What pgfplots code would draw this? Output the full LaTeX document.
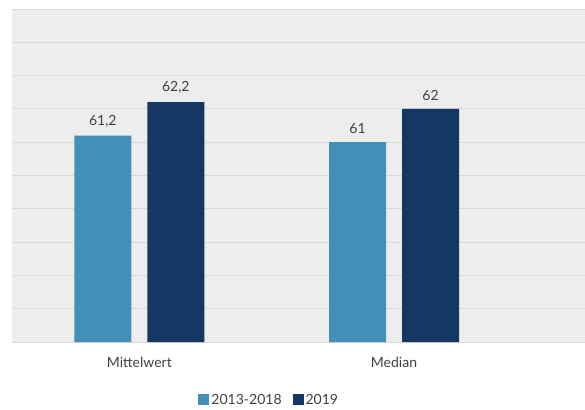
\documentclass[border=0pt]{standalone}
\usepackage{pgfplots}
\pgfplotsset{compat=1.18}
\usepackage{fontspec}
\setmainfont{Lato}
\definecolor{lightbar}{HTML}{438FB7}
\definecolor{darkbar}{HTML}{153763}
\definecolor{bg}{HTML}{EDEDED}
\definecolor{gridc}{HTML}{D9D9D9}
\definecolor{txt}{HTML}{404040}
\begin{document}
\begin{tikzpicture}
\useasboundingbox (-12pt,-67pt) rectangle (573pt,342pt);
\begin{axis}[
  at={(0pt,0pt)}, anchor=south west,
  scale only axis, width=573pt, height=333pt,
  xmin=-0.5, xmax=1.75, ymin=55, ymax=65,
  axis background/.style={fill=bg},
  axis line style={draw=none},
  ytick={55,56,...,65}, yticklabels={},
  ymajorgrids, grid style={gridc, line width=0.8pt},
  major tick length=0pt,
  xtick={0,1}, xticklabels={Mittelwert,Median},
  xticklabel style={font=\fontsize{14}{16}\selectfont, text=txt, yshift=-12pt},
  ybar, bar width=57pt,
  nodes near coords,
  nodes near coords style={font=\fontsize{14}{16}\selectfont, text=txt, yshift=5pt},
  /pgf/number format/use comma,
  /pgf/number format/assume math mode=true,
  legend style={at={(axis description cs:0.449,-0.174)}, anchor=center, draw=none, fill=none,
    font=\fontsize{14}{16}\selectfont, text=txt, /tikz/every even column/.append style={column sep=9pt}},
  legend columns=2,
  legend image code/.code={\fill[#1] (0pt,-5pt) rectangle (11pt,6pt);},
]
\addplot[fill=lightbar, draw=none, bar shift=-36.5pt] coordinates {(0,61.2) (1,61)};
\addplot[fill=darkbar, draw=none, bar shift=36.5pt] coordinates {(0,62.2) (1,62)};
\legend{2013-2018,2019}
\end{axis}
\end{tikzpicture}
\end{document}
